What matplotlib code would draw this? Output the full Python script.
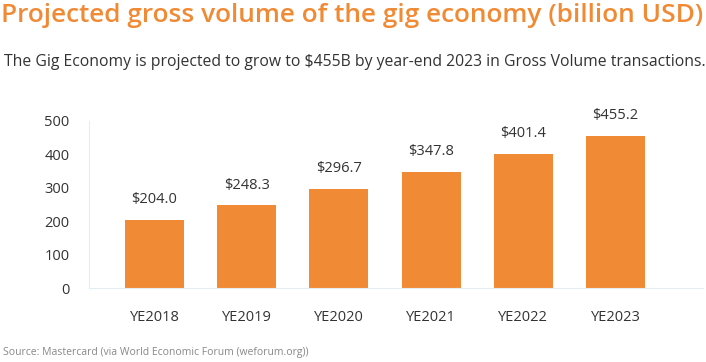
import matplotlib.pyplot as plt

plt.rcParams['font.family'] = ['Open Sans', 'DejaVu Sans']

years = ['YE2018', 'YE2019', 'YE2020', 'YE2021', 'YE2022', 'YE2023']
volume = [204.0, 248.3, 296.7, 347.8, 401.4, 455.2]
labels = ['$204.0', '$248.3', '$296.7', '$347.8', '$401.4', '$455.2']
yticks = [0, 100, 200, 300, 400, 500]

orange = '#F08A35'
dark = '#333333'

fig = plt.figure(figsize=(7.06, 3.62), dpi=100)
ax = fig.add_axes([0.126, 0.204, 0.87, 0.462])

x = list(range(len(years)))
ax.bar(x, volume, width=0.64, color=orange)
for xi, v, lab in zip(x, volume, labels):
    ax.annotate(lab, (xi, v), xytext=(0, 9), textcoords='offset points',
                ha='center', va='bottom', fontsize=10.5, color=dark,
                annotation_clip=False)

ax.set_xlim(-0.71, 5.95)
ax.set_ylim(0, 500)
ax.set_xticks(x)
ax.set_xticklabels(years)
ax.set_yticks(yticks)
ax.tick_params(axis='both', length=0, labelsize=10.5, colors=dark)
ax.tick_params(axis='x', pad=16)
ax.tick_params(axis='y', pad=14)
for s in ['top', 'right']:
    ax.spines[s].set_visible(False)
ax.spines['left'].set_color('#E3EEF4')
ax.spines['bottom'].set_color('#E3EEF4')

fig.text(0.002, 0.958, 'Projected gross volume of the gig economy (billion USD)',
         fontsize=18.9, color=orange, fontweight='semibold', va='center', ha='left')
fig.text(0.006, 0.83, 'The Gig Economy is projected to grow to $455B by year-end 2023 in Gross Volume transactions.',
         fontsize=11.3, color=dark, va='center', ha='left')
fig.text(0.004, 0.025, 'Source: Mastercard (via World Economic Forum (weforum.org))',
         fontsize=7.5, color='#888888', va='center', ha='left')

fig.savefig('out.png', dpi=100, facecolor='white')
